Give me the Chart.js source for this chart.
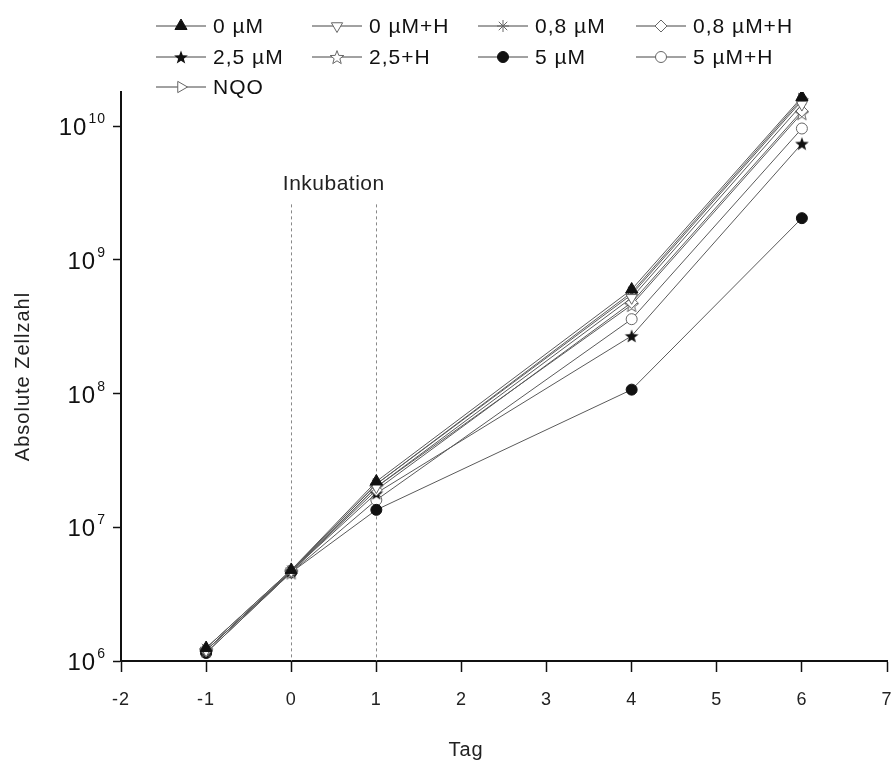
<!DOCTYPE html>
<html>
<head>
<meta charset="utf-8">
<script src="https://cdn.jsdelivr.net/npm/chart.js@4.4.1/dist/chart.umd.min.js"></script>
<style>
html, body { margin: 0; padding: 0; background: #fff; }
</style>
</head>
<body>
<canvas id="growthChart" width="895" height="765"></canvas>
<script>
// Wachstumskurven: absolute Zellzahl je Tag (log-Skala)
let days = [-1, 0, 1, 4, 6];
let labels = ["0 µM", "0 µM+H", "0,8 µM", "0,8 µM+H", "2,5 µM", "2,5+H", "5 µM", "5 µM+H", "NQO"];

let c0 = [1.25e6, 4.8e6, 2.2e7, 6.0e8, 1.65e10];
let c0H = [1.2e6, 4.7e6, 2.0e7, 5.2e8, 1.45e10];
let c08 = [1.25e6, 4.8e6, 2.1e7, 5.5e8, 1.55e10];
let c08H = [1.2e6, 4.7e6, 1.9e7, 4.8e8, 1.3e10];
let c25 = [1.2e6, 4.7e6, 1.8e7, 2.7e8, 7.4e9];
let c25H = [1.2e6, 4.6e6, 2.0e7, 4.6e8, 1.25e10];
let c5 = [1.15e6, 4.6e6, 1.35e7, 1.07e8, 2.05e9];
let c5H = [1.15e6, 4.6e6, 1.6e7, 3.6e8, 9.6e9];
let nqo = [1.2e6, 4.7e6, 2.1e7, 5.7e8, 1.6e10];

let yTickExponents = [6, 7, 8, 9, 10];
let xTicks = [-2, -1, 0, 1, 2, 3, 4, 5, 6, 7];
let incubationDays = [0, 1];
let incubationTop = 2.6e9;

const FONT = '"Liberation Sans", Arial, sans-serif';

// gefüllter / offener Fünfzackstern als Punktbild
function starImage(filled) {
    const s = 16;
    const c = document.createElement('canvas');
    c.width = s; c.height = s;
    const g = c.getContext('2d');
    g.beginPath();
    for (let k = 0; k < 10; k++) {
        const r = k % 2 ? 3 : 7.2;
        const a = -Math.PI / 2 + k * Math.PI / 5;
        g.lineTo(s / 2 + r * Math.cos(a), s / 2 + 0.8 + r * Math.sin(a));
    }
    g.closePath();
    if (filled) {
        g.fillStyle = '#111';
        g.fill();
    } else {
        g.fillStyle = '#fff';
        g.fill();
        g.strokeStyle = '#666';
        g.lineWidth = 1;
        g.stroke();
    }
    return c;
}

const markers = [
    {style: 'triangle', rot: 0, r: 7, fill: true},
    {style: 'triangle', rot: 180, r: 6.5, fill: false},
    {style: 'star', rot: 0, r: 6, fill: false},
    {style: 'rectRot', rot: 0, r: 6, fill: false},
    {style: starImage(true), rot: 0, r: 6, fill: true},
    {style: starImage(false), rot: 0, r: 6, fill: false},
    {style: 'circle', rot: 0, r: 5.5, fill: true},
    {style: 'circle', rot: 0, r: 5.5, fill: false},
    {style: 'triangle', rot: 90, r: 6.5, fill: false}
];

const values = [c0, c0H, c08, c08H, c25, c25H, c5, c5H, nqo];

const datasets = values.map((vals, i) => {
    const m = markers[i];
    return {
        label: labels[i],
        data: days.map((d, j) => ({x: d, y: vals[j]})),
        borderColor: '#5a5a5a',
        borderWidth: 1,
        pointStyle: m.style,
        pointRotation: m.rot,
        pointRadius: m.r,
        pointHoverRadius: m.r,
        pointBackgroundColor: m.fill ? '#111' : '#fff',
        pointBorderColor: m.fill ? '#111' : '#666',
        pointBorderWidth: 1,
        tension: 0
    };
});

// Legende im Raster oben
const legendCols = [156, 312, 478, 636];
const legendRows = [26, 57, 87];
const legendIconW = 50;

const gridLegend = {
    id: 'gridLegend',
    afterDraw(chart) {
        const ctx = chart.ctx;
        ctx.save();
        ctx.font = '21px ' + FONT;
        ctx.letterSpacing = '1px';
        ctx.textBaseline = 'middle';
        chart.data.datasets.forEach((ds, i) => {
            const x0 = legendCols[i % 4];
            const y = legendRows[Math.floor(i / 4)];
            ctx.strokeStyle = '#444';
            ctx.lineWidth = 1;
            ctx.beginPath();
            ctx.moveTo(x0, y);
            ctx.lineTo(x0 + legendIconW, y);
            ctx.stroke();
            ctx.fillStyle = ds.pointBackgroundColor;
            ctx.strokeStyle = ds.pointBorderColor;
            Chart.helpers.drawPoint(ctx, {
                pointStyle: ds.pointStyle,
                radius: ds.pointRadius,
                rotation: ds.pointRotation,
                borderWidth: 1
            }, x0 + legendIconW / 2, y);
            ctx.fillStyle = '#111';
            ctx.fillText(ds.label, x0 + legendIconW + 7, y + 1);
        });
        ctx.restore();
    }
};

// gestrichelte Linien für den Inkubationszeitraum
const incubation = {
    id: 'incubation',
    beforeDatasetsDraw(chart) {
        const ctx = chart.ctx;
        const xs = chart.scales.x, ys = chart.scales.y;
        const top = ys.getPixelForValue(incubationTop);
        ctx.save();
        ctx.strokeStyle = '#888';
        ctx.lineWidth = 1;
        ctx.setLineDash([3, 3]);
        incubationDays.forEach(d => {
            const px = Math.round(xs.getPixelForValue(d)) + 0.5;
            ctx.beginPath();
            ctx.moveTo(px, top);
            ctx.lineTo(px, chart.chartArea.bottom);
            ctx.stroke();
        });
        ctx.setLineDash([]);
        ctx.fillStyle = '#222';
        ctx.font = '21px ' + FONT;
        ctx.letterSpacing = '0.5px';
        ctx.textAlign = 'center';
        ctx.textBaseline = 'middle';
        const mid = (xs.getPixelForValue(incubationDays[0]) + xs.getPixelForValue(incubationDays[1])) / 2;
        ctx.fillText('Inkubation', mid, top - 20);
        ctx.restore();
    }
};

// Y-Beschriftung als 10 mit hochgestelltem Exponenten, X-Titel
const axisText = {
    id: 'axisText',
    afterDraw(chart) {
        const ctx = chart.ctx;
        const ys = chart.scales.y;
        const right = ys.right - 15;
        ctx.save();
        ctx.fillStyle = '#111';
        ctx.letterSpacing = '1px';
        ctx.textBaseline = 'alphabetic';
        ctx.textAlign = 'right';
        yTickExponents.forEach(e => {
            const py = ys.getPixelForValue(Math.pow(10, e));
            ctx.font = '14px ' + FONT;
            const exp = String(e);
            const ew = ctx.measureText(exp).width;
            ctx.fillText(exp, right, py - 3);
            ctx.font = '24px ' + FONT;
            ctx.fillText('10', right - ew - 1, py + 9);
        });
        ctx.textAlign = 'center';
        ctx.textBaseline = 'middle';
        ctx.font = '20px ' + FONT;
        ctx.fillStyle = '#222';
        ctx.fillText('Tag', 466, 750);
        ctx.restore();
    }
};

const spacing = {
    id: 'spacing',
    beforeDraw(chart) { chart.ctx.letterSpacing = '1px'; }
};

new Chart('growthChart', {
    type: 'line',
    data: {datasets: datasets},
    options: {
        responsive: false,
        animation: false,
        devicePixelRatio: 1,
        layout: {padding: {top: 92, right: 8, left: 0, bottom: 0}},
        plugins: {
            legend: {display: false},
            tooltip: {enabled: false}
        },
        scales: {
            x: {
                type: 'linear',
                min: -2,
                max: 7,
                afterBuildTicks: s => { s.ticks = xTicks.map(v => ({value: v})); },
                afterFit: s => { s.height = 104; s.paddingLeft = 0; s.paddingRight = 0; },
                ticks: {color: '#222', font: {family: FONT, size: 18}, padding: 17},
                grid: {display: true, drawOnChartArea: false, drawTicks: true, tickLength: 11, tickColor: '#111', tickWidth: 1.5},
                border: {color: '#111', width: 2}
            },
            y: {
                type: 'logarithmic',
                min: 1e6,
                max: 1.8e10,
                afterBuildTicks: s => { s.ticks = yTickExponents.map(e => ({value: Math.pow(10, e)})); },
                afterFit: s => { s.width = 121; s.paddingTop = 0; s.paddingBottom = 0; },
                ticks: {display: false},
                grid: {display: true, drawOnChartArea: false, drawTicks: true, tickLength: 8, tickColor: '#111', tickWidth: 1.5},
                border: {color: '#111', width: 2},
                title: {display: true, text: 'Absolute Zellzahl', color: '#222', font: {family: FONT, size: 20}, padding: {top: 11, bottom: 0}}
            }
        }
    },
    plugins: [spacing, incubation, axisText, gridLegend]
});
</script>
</body>
</html>
